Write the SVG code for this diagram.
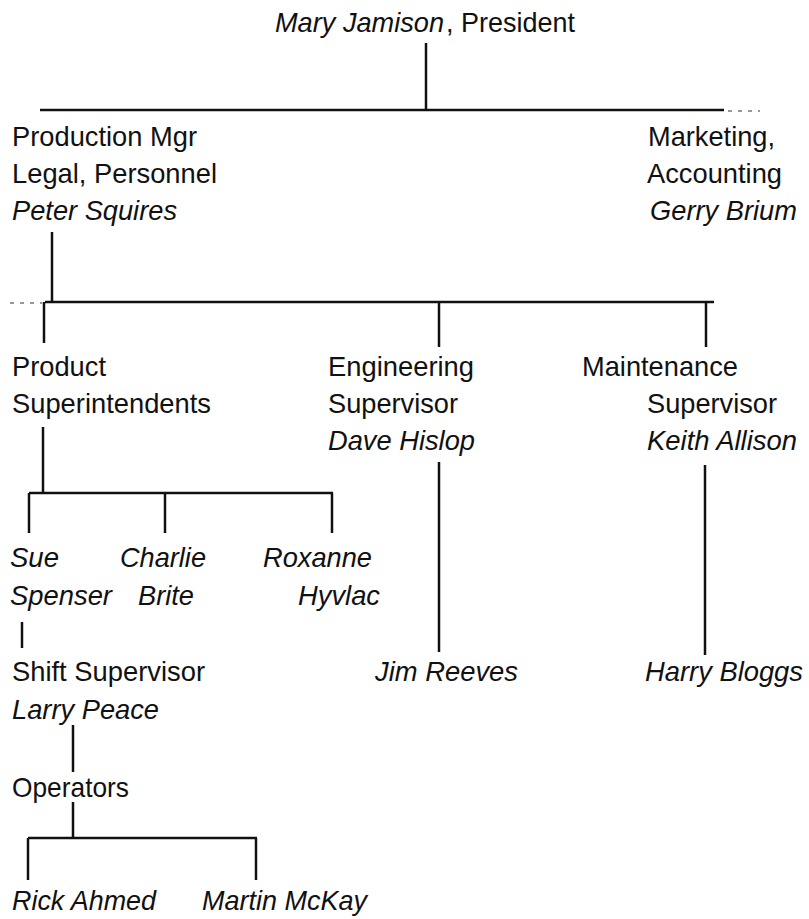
<svg xmlns="http://www.w3.org/2000/svg" width="809" height="919" viewBox="0 0 809 919">
<style>
text{font-family:"Liberation Sans",Arial,sans-serif;font-size:28px;fill:#111}
.i{font-style:italic}
.c line{stroke:#111;stroke-width:2.5;stroke-linecap:butt}
.c .f{stroke:#999;stroke-width:2;stroke-dasharray:4 6}
</style>
<rect width="809" height="919" fill="#fff"/>
<g class="c" id="connectors">
<line x1="426" y1="43" x2="426" y2="110"/>
<line x1="40" y1="110" x2="724" y2="110"/>
<line class="f" x1="728" y1="111" x2="760" y2="111"/>
<line x1="52" y1="232" x2="52" y2="302"/>
<line x1="45" y1="302" x2="714" y2="302"/>
<line class="f" x1="10" y1="303" x2="42" y2="303"/>
<line x1="44" y1="302" x2="44" y2="343"/>
<line x1="439" y1="302" x2="439" y2="347"/>
<line x1="706" y1="302" x2="706" y2="347"/>
<line x1="43" y1="427" x2="43" y2="493"/>
<line x1="29" y1="493" x2="333" y2="493"/>
<line x1="29" y1="493" x2="29" y2="533"/>
<line x1="165" y1="493" x2="165" y2="533"/>
<line x1="332" y1="493" x2="332" y2="533"/>
<line x1="439" y1="462" x2="439" y2="652"/>
<line x1="705" y1="465" x2="705" y2="655"/>
<line x1="22" y1="622" x2="22" y2="648"/>
<line x1="73" y1="725" x2="73" y2="772"/>
<line x1="73" y1="802" x2="73" y2="838"/>
<line x1="28" y1="838" x2="257" y2="838"/>
<line x1="28" y1="838" x2="28" y2="880"/>
<line x1="256" y1="838" x2="256" y2="880"/>
</g>
<g id="president">
<text class="i" x="275" y="32" textLength="169" lengthAdjust="spacingAndGlyphs">Mary Jamison</text>
<text x="446" y="32" textLength="129" lengthAdjust="spacingAndGlyphs">, President</text>
</g>
<g id="production-mgr">
<text x="12" y="146" textLength="185" lengthAdjust="spacingAndGlyphs">Production Mgr</text>
<text x="12" y="183" textLength="205" lengthAdjust="spacingAndGlyphs">Legal, Personnel</text>
<text class="i" x="12" y="220" textLength="165" lengthAdjust="spacingAndGlyphs">Peter Squires</text>
</g>
<g id="marketing">
<text x="648" y="146" textLength="127" lengthAdjust="spacingAndGlyphs">Marketing,</text>
<text x="647" y="183" textLength="135" lengthAdjust="spacingAndGlyphs">Accounting</text>
<text class="i" x="650" y="220" textLength="147" lengthAdjust="spacingAndGlyphs">Gerry Brium</text>
</g>
<g id="product-superintendents">
<text x="12" y="376" textLength="94" lengthAdjust="spacingAndGlyphs">Product</text>
<text x="12" y="413" textLength="199" lengthAdjust="spacingAndGlyphs">Superintendents</text>
</g>
<g id="engineering">
<text x="328" y="376" textLength="146" lengthAdjust="spacingAndGlyphs">Engineering</text>
<text x="328" y="413" textLength="130" lengthAdjust="spacingAndGlyphs">Supervisor</text>
<text class="i" x="328" y="450" textLength="147" lengthAdjust="spacingAndGlyphs">Dave Hislop</text>
</g>
<g id="maintenance">
<text x="582" y="376" textLength="156" lengthAdjust="spacingAndGlyphs">Maintenance</text>
<text x="647" y="413" textLength="130" lengthAdjust="spacingAndGlyphs">Supervisor</text>
<text class="i" x="647" y="450" textLength="150" lengthAdjust="spacingAndGlyphs">Keith Allison</text>
</g>
<g id="sue-spenser">
<text class="i" x="10" y="567" textLength="49" lengthAdjust="spacingAndGlyphs">Sue</text>
<text class="i" x="10" y="605" textLength="102" lengthAdjust="spacingAndGlyphs">Spenser</text>
</g>
<g id="charlie-brite">
<text class="i" x="120" y="567" textLength="86" lengthAdjust="spacingAndGlyphs">Charlie</text>
<text class="i" x="138" y="605" textLength="56" lengthAdjust="spacingAndGlyphs">Brite</text>
</g>
<g id="roxanne-hyvlac">
<text class="i" x="263" y="567" textLength="109" lengthAdjust="spacingAndGlyphs">Roxanne</text>
<text class="i" x="298" y="605" textLength="82" lengthAdjust="spacingAndGlyphs">Hyvlac</text>
</g>
<g id="shift-supervisor">
<text x="12" y="681" textLength="193" lengthAdjust="spacingAndGlyphs">Shift Supervisor</text>
<text class="i" x="12" y="719" textLength="147" lengthAdjust="spacingAndGlyphs">Larry Peace</text>
</g>
<g id="jim-reeves"><text class="i" x="375" y="681" textLength="143" lengthAdjust="spacingAndGlyphs">Jim Reeves</text></g>
<g id="harry-bloggs"><text class="i" x="645" y="681" textLength="158" lengthAdjust="spacingAndGlyphs">Harry Bloggs</text></g>
<g id="operators"><text x="12" y="797" textLength="117" lengthAdjust="spacingAndGlyphs">Operators</text></g>
<g id="rick-ahmed"><text class="i" x="12" y="910" textLength="144" lengthAdjust="spacingAndGlyphs">Rick Ahmed</text></g>
<g id="martin-mckay"><text class="i" x="202" y="910" textLength="165" lengthAdjust="spacingAndGlyphs">Martin McKay</text></g>
</svg>
